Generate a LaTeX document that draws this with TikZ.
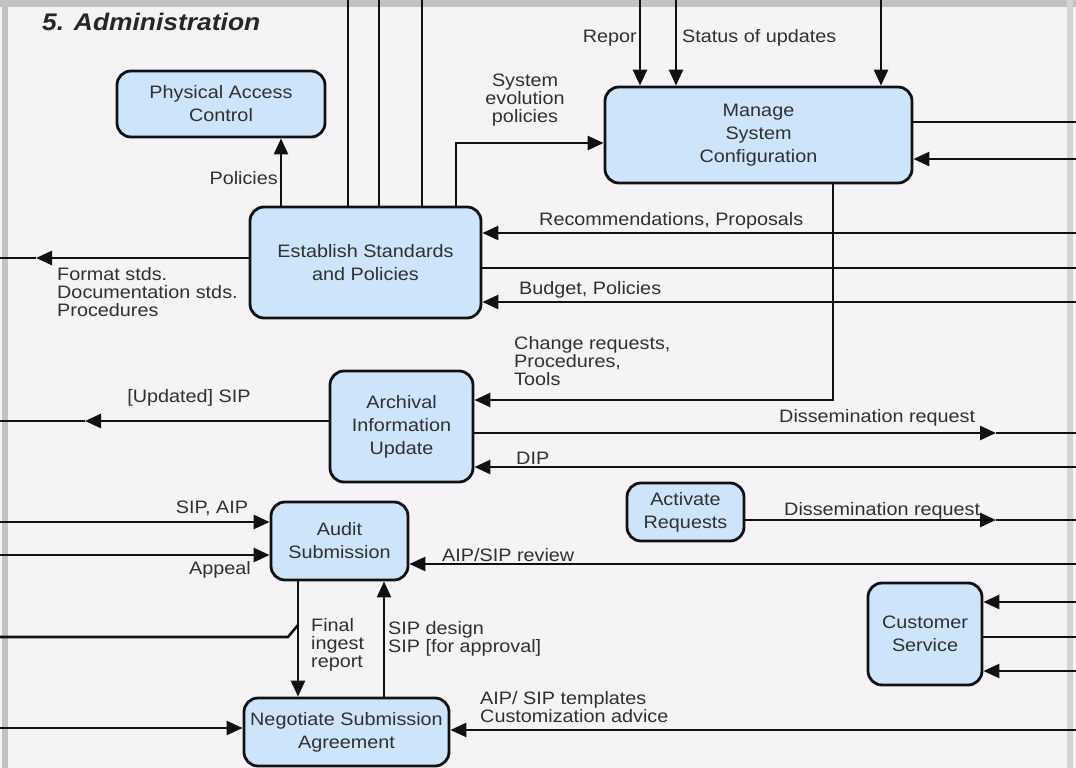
\documentclass[tikz,border=0pt]{standalone}
\usepackage{fontspec}
\setmainfont{Liberation Sans}[FakeStretch=1.1]
\usetikzlibrary{arrows.meta}
\definecolor{bg}{HTML}{F6F3F6}
\definecolor{framegray}{HTML}{C2C2C2}
\definecolor{boxfill}{HTML}{CDE4FA}
\definecolor{ink}{HTML}{111111}
\definecolor{txt}{HTML}{303030}

\begin{document}
\begin{tikzpicture}[x=1pt,y=-1pt,
  proc/.style={draw=ink, line width=2.8pt, fill=boxfill, rounded corners=14pt,
    align=center, text=txt, font=\fontsize{18}{23}\selectfont, inner sep=0pt},
  flow/.style={draw=ink, line width=2.6pt},
  arr/.style={flow, -{Triangle[length=16pt,width=14pt]}},
  lbl/.style={text=txt, font=\fontsize{18}{18}\selectfont, align=left, inner sep=0pt},
]
% canvas and frame
\fill[bg] (0,0) rectangle (1076,768);
\useasboundingbox (0,0) rectangle (1076,768);
\fill[framegray] (0,0) rectangle (1076,7);
\fill[framegray] (2,0) rectangle (8,768);
\fill[framegray!70] (1067,0) rectangle (1073,768);

\node[anchor=west, inner sep=0pt, text=black!85,
  font=\fontsize{24}{24}\selectfont\bfseries\itshape] (title) at (42,22) {5. Administration};

% processes
\node[proc, minimum width=208pt, minimum height=66pt]  (pac) at (221,104)     {Physical Access\\Control};
\node[proc, minimum width=231pt, minimum height=111pt] (est) at (365.5,262.5) {Establish Standards\\and Policies};
\node[proc, minimum width=307pt, minimum height=96pt]  (msc) at (758.5,135)   {Manage\\System\\Configuration};
\node[proc, minimum width=143pt, minimum height=111pt] (aiu) at (401.5,426.5) {Archival\\Information\\Update};
\node[proc, minimum width=137pt, minimum height=78pt]  (aud) at (339.5,541)   {Audit\\Submission};
\node[proc, minimum width=117pt, minimum height=58pt]  (act) at (685.5,512)   {Activate\\Requests};
\node[proc, minimum width=114pt, minimum height=102pt] (cus) at (925,634)     {Customer\\Service};
\node[proc, minimum width=205pt, minimum height=68pt]  (neg) at (346.5,732)   {Negotiate Submission\\Agreement};

% flows entering Establish Standards from above
\coordinate (ta) at (348,0);
\coordinate (tb) at (379,0);
\coordinate (tc) at (422,0);
\draw[flow] (ta) -- (ta |- est.north);
\draw[flow] (tb) -- (tb |- est.north);
\draw[flow] (tc) -- (tc |- est.north);

% policies to physical access control
\coordinate (polx) at (281,0);
\draw[arr] (polx |- est.north) -- (polx |- pac.south);
\node[lbl, anchor=east] (lpol) at (278,178) {Policies};

% system evolution policies
\coordinate (sev) at (456,143);
\draw[arr] (sev |- est.north) -- (sev) -- (sev -| msc.west);
\node[lbl, align=center] (lsev) at (525,100) {System\\evolution\\policies};

% flows into Manage System Configuration from above
\coordinate (ma) at (640,0);
\coordinate (mb) at (676,0);
\coordinate (mc) at (881,0);
\draw[arr] (ma) -- (ma |- msc.north);
\draw[arr] (mb) -- (mb |- msc.north);
\draw[arr] (mc) -- (mc |- msc.north);
\node[lbl, anchor=east] (lrep) at (637,38) {Repor};
\node[lbl, anchor=west] (lstat) at (682,38) {Status of updates};

% Manage System Configuration, right side
\coordinate (mout) at (1076,122);
\coordinate (min) at (1076,159);
\draw[flow] (mout -| msc.east) -- (mout);
\draw[arr] (min) -- (min -| msc.east);

% change requests down to Archival Information Update
\coordinate (chg) at (833,400);
\draw[arr] (chg |- msc.south) -- (chg) -- (chg -| aiu.east);
\node[lbl, anchor=west] (lchg) at (514,361) {Change requests,\\Procedures,\\Tools};

% Establish Standards, right side
\coordinate (rrec) at (1076,233);
\coordinate (rmid) at (1076,268);
\coordinate (rbud) at (1076,302);
\draw[arr] (rrec) -- (rrec -| est.east);
\draw[flow] (rmid -| est.east) -- (rmid);
\draw[arr] (rbud) -- (rbud -| est.east);
\node[lbl, anchor=west] (lrec) at (539,221) {Recommendations, Proposals};
\node[lbl, anchor=west] (lbud) at (519,290) {Budget, Policies};

% Establish Standards, left side
\coordinate (fmttip) at (36,258);
\coordinate (fmtend) at (0,258);
\draw[arr] (fmtend -| est.west) -- (fmttip);
\draw[flow] (fmttip) -- (fmtend);
\node[lbl, anchor=west] (lfmt) at (57,292) {Format stds.\\Documentation stds.\\Procedures};

% Archival Information Update
\coordinate (updtip) at (85,421);
\coordinate (updend) at (0,421);
\draw[arr] (updend -| aiu.west) -- (updtip);
\draw[flow] (updtip) -- (updend);
\node[lbl] (lupd) at (189,398) {[Updated] SIP};

\coordinate (dstip) at (996,433);
\coordinate (dsend) at (1076,433);
\draw[arr] (dsend -| aiu.east) -- (dstip);
\draw[flow] (dstip) -- (dsend);
\node[lbl, anchor=west] (lds) at (779,418) {Dissemination request};

\coordinate (dip) at (1076,467);
\draw[arr] (dip) -- (dip -| aiu.east);
\node[lbl, anchor=west] (ldip) at (516,458) {DIP};

% Activate Requests
\coordinate (actip) at (996,520);
\coordinate (acend) at (1076,520);
\draw[arr] (acend -| act.east) -- (actip);
\draw[flow] (actip) -- (acend);
\node[lbl, anchor=west] (lds2) at (784,511) {Dissemination request};

% Audit Submission
\coordinate (sipaip) at (0,522);
\coordinate (appeal) at (0,555);
\coordinate (review) at (1076,564);
\draw[arr] (sipaip) -- (sipaip -| aud.west);
\draw[arr] (appeal) -- (appeal -| aud.west);
\draw[arr] (review) -- (review -| aud.east);
\node[lbl] (lsip) at (212,508) {SIP, AIP};
\node[lbl] (lapp) at (220,570) {Appeal};
\node[lbl, anchor=west] (lrev) at (442,555) {AIP/SIP review};

% between Audit Submission and Negotiate Submission Agreement
\coordinate (fin) at (298,0);
\coordinate (des) at (384,0);
\draw[arr] (fin |- aud.south) -- (fin |- neg.north);
\draw[arr] (des |- neg.north) -- (des |- aud.south);
\coordinate (brend) at (0,637);
\coordinate (brbend) at (288,637);
\coordinate (brjoin) at (298,625);
\draw[flow] (brend) -- (brbend) -- (brjoin);
\node[lbl, anchor=west] (lfin) at (311,645) {Final\\ingest\\report};
\node[lbl, anchor=west] (ldes) at (388,639) {SIP design\\SIP [for approval]};

% Negotiate Submission Agreement
\coordinate (negin) at (0,728);
\coordinate (tmpl) at (1076,730);
\draw[arr] (negin) -- (negin -| neg.west);
\draw[arr] (tmpl) -- (tmpl -| neg.east);
\node[lbl, anchor=west] (ltmpl) at (480,707) {AIP/ SIP templates\\Customization advice};

% Customer Service
\coordinate (csa) at (1076,602);
\coordinate (csb) at (1076,637);
\coordinate (csc) at (1076,671);
\draw[arr] (csa) -- (csa -| cus.east);
\draw[flow] (csb -| cus.east) -- (csb);
\draw[arr] (csc) -- (csc -| cus.east);
\end{tikzpicture}
\end{document}
